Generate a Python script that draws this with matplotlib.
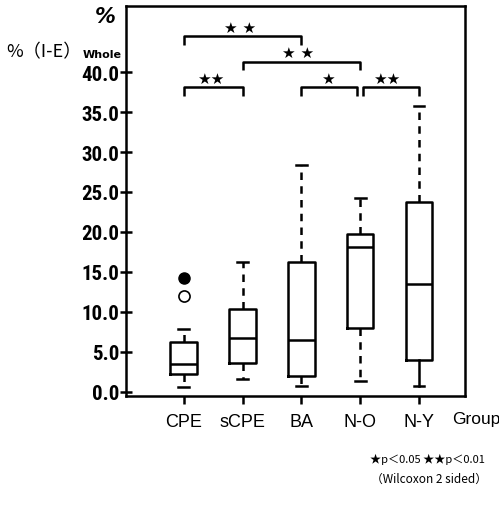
import matplotlib
matplotlib.use('Agg')
import matplotlib.pyplot as plt

# 数据
groups = ['CPE', 'sCPE', 'BA', 'N-O', 'N-Y']
q1 = [2.2, 3.6, 2.0, 8.0, 4.0]
median = [3.5, 6.8, 6.5, 18.1, 13.5]
q3 = [6.2, 10.4, 16.3, 19.8, 23.7]
whislo = [0.6, 1.6, 0.7, 1.4, 0.8]
whishi = [7.9, 16.2, 28.4, 24.3, 35.8]
outlier_filled = [14.2]   # CPE
outlier_open = [12.0]     # CPE
yticks = [0, 5, 10, 15, 20, 25, 30, 35, 40]

# 显著性比较 (组1, 组2, 星号, 高度)
comparisons = [
    (1, 3, '★ ★', 44.5),
    (2, 4, '★ ★', 41.3),
    (1, 2, '★★', 38.1),
    (3, 4, '★', 38.1),
    (4, 5, '★★', 38.1),
]

fig = plt.figure(figsize=(4.99, 5.10), dpi=100)
ax = fig.add_axes([126/499, 1-397/510, (465-126)/499, (397-7)/510])

stats = []
for i in range(len(groups)):
    stats.append(dict(med=median[i], q1=q1[i], q3=q3[i],
                      whislo=whislo[i], whishi=whishi[i], fliers=[]))

pos = list(range(1, len(groups)+1))
bp = ax.bxp(stats, positions=pos, widths=0.45, capwidths=0.18, showfliers=False,
            boxprops=dict(color='black', linewidth=1.8),
            medianprops=dict(color='black', linewidth=1.8),
            whiskerprops=dict(color='black', linewidth=1.8, linestyle=(0, (3, 2.5))),
            capprops=dict(color='black', linewidth=1.8))
# N-Y 下须为实线
bp['whiskers'][8].set_linestyle('-')

ax.plot([1]*len(outlier_filled), outlier_filled, 'o', color='black', ms=8)
ax.plot([1]*len(outlier_open), outlier_open, 'o', mfc='white', mec='black', ms=8, mew=1.2)

# 显著性括号
for a, b, stars, h in comparisons:
    xa, xb = a, b
    if a == 4:
        xa = a + 0.05
    if b == 4 and a == 3:
        xb = b - 0.05
    ax.plot([xa, xa, xb, xb], [h-1.1, h, h, h-1.1], color='black', lw=1.8,
            solid_capstyle='butt', clip_on=False)
    ax.text((a+b)/2 - 0.05, h+0.15, stars, ha='center', va='bottom', fontsize=11,
            family=['DejaVu Sans'])

ax.set_xlim(0.02, 5.78)
ax.set_ylim(-0.5, 48.25)
ax.set_yticks(yticks)
ax.set_yticklabels(['%.1f' % v for v in yticks], fontsize=15,
                   family=['Roboto Condensed', 'DejaVu Sans'], fontweight='bold')
ax.set_xticks(pos)
ax.set_xticklabels(groups, fontsize=13, family=['Liberation Sans', 'DejaVu Sans'])
ax.tick_params(axis='y', direction='inout', length=8, width=1.8, pad=1)
ax.tick_params(axis='x', length=6, width=1.8, pad=6)
for s in ax.spines.values():
    s.set_linewidth(1.8)

cjk = ['Noto Sans CJK JP', 'DejaVu Sans']
fig.text(105/499, 1-17/510, '%', fontsize=15, ha='center', va='center',
         style='italic', fontweight='bold', family=['DejaVu Sans'])
fig.text(6/499, 1-52/510, '%（I-E）', fontsize=13, ha='left', va='center', family=cjk)
fig.text(83/499, 1-55/510, 'Whole', fontsize=8, ha='left', va='center',
         fontweight='bold', family=['DejaVu Sans'])
fig.text(452/499, 1-420/510, 'Group', fontsize=12.5, ha='left', va='center',
         family=['Liberation Sans', 'DejaVu Sans'])
fig.text(485/499, 1-459/510, '★p＜0.05 ★★p＜0.01', fontsize=8, ha='right', va='center',
         family=cjk)
fig.text(487/499, 1-479/510, '（Wilcoxon 2 sided）', fontsize=8.5, ha='right', va='center',
         family=cjk)

fig.savefig('out.png', dpi=100)
